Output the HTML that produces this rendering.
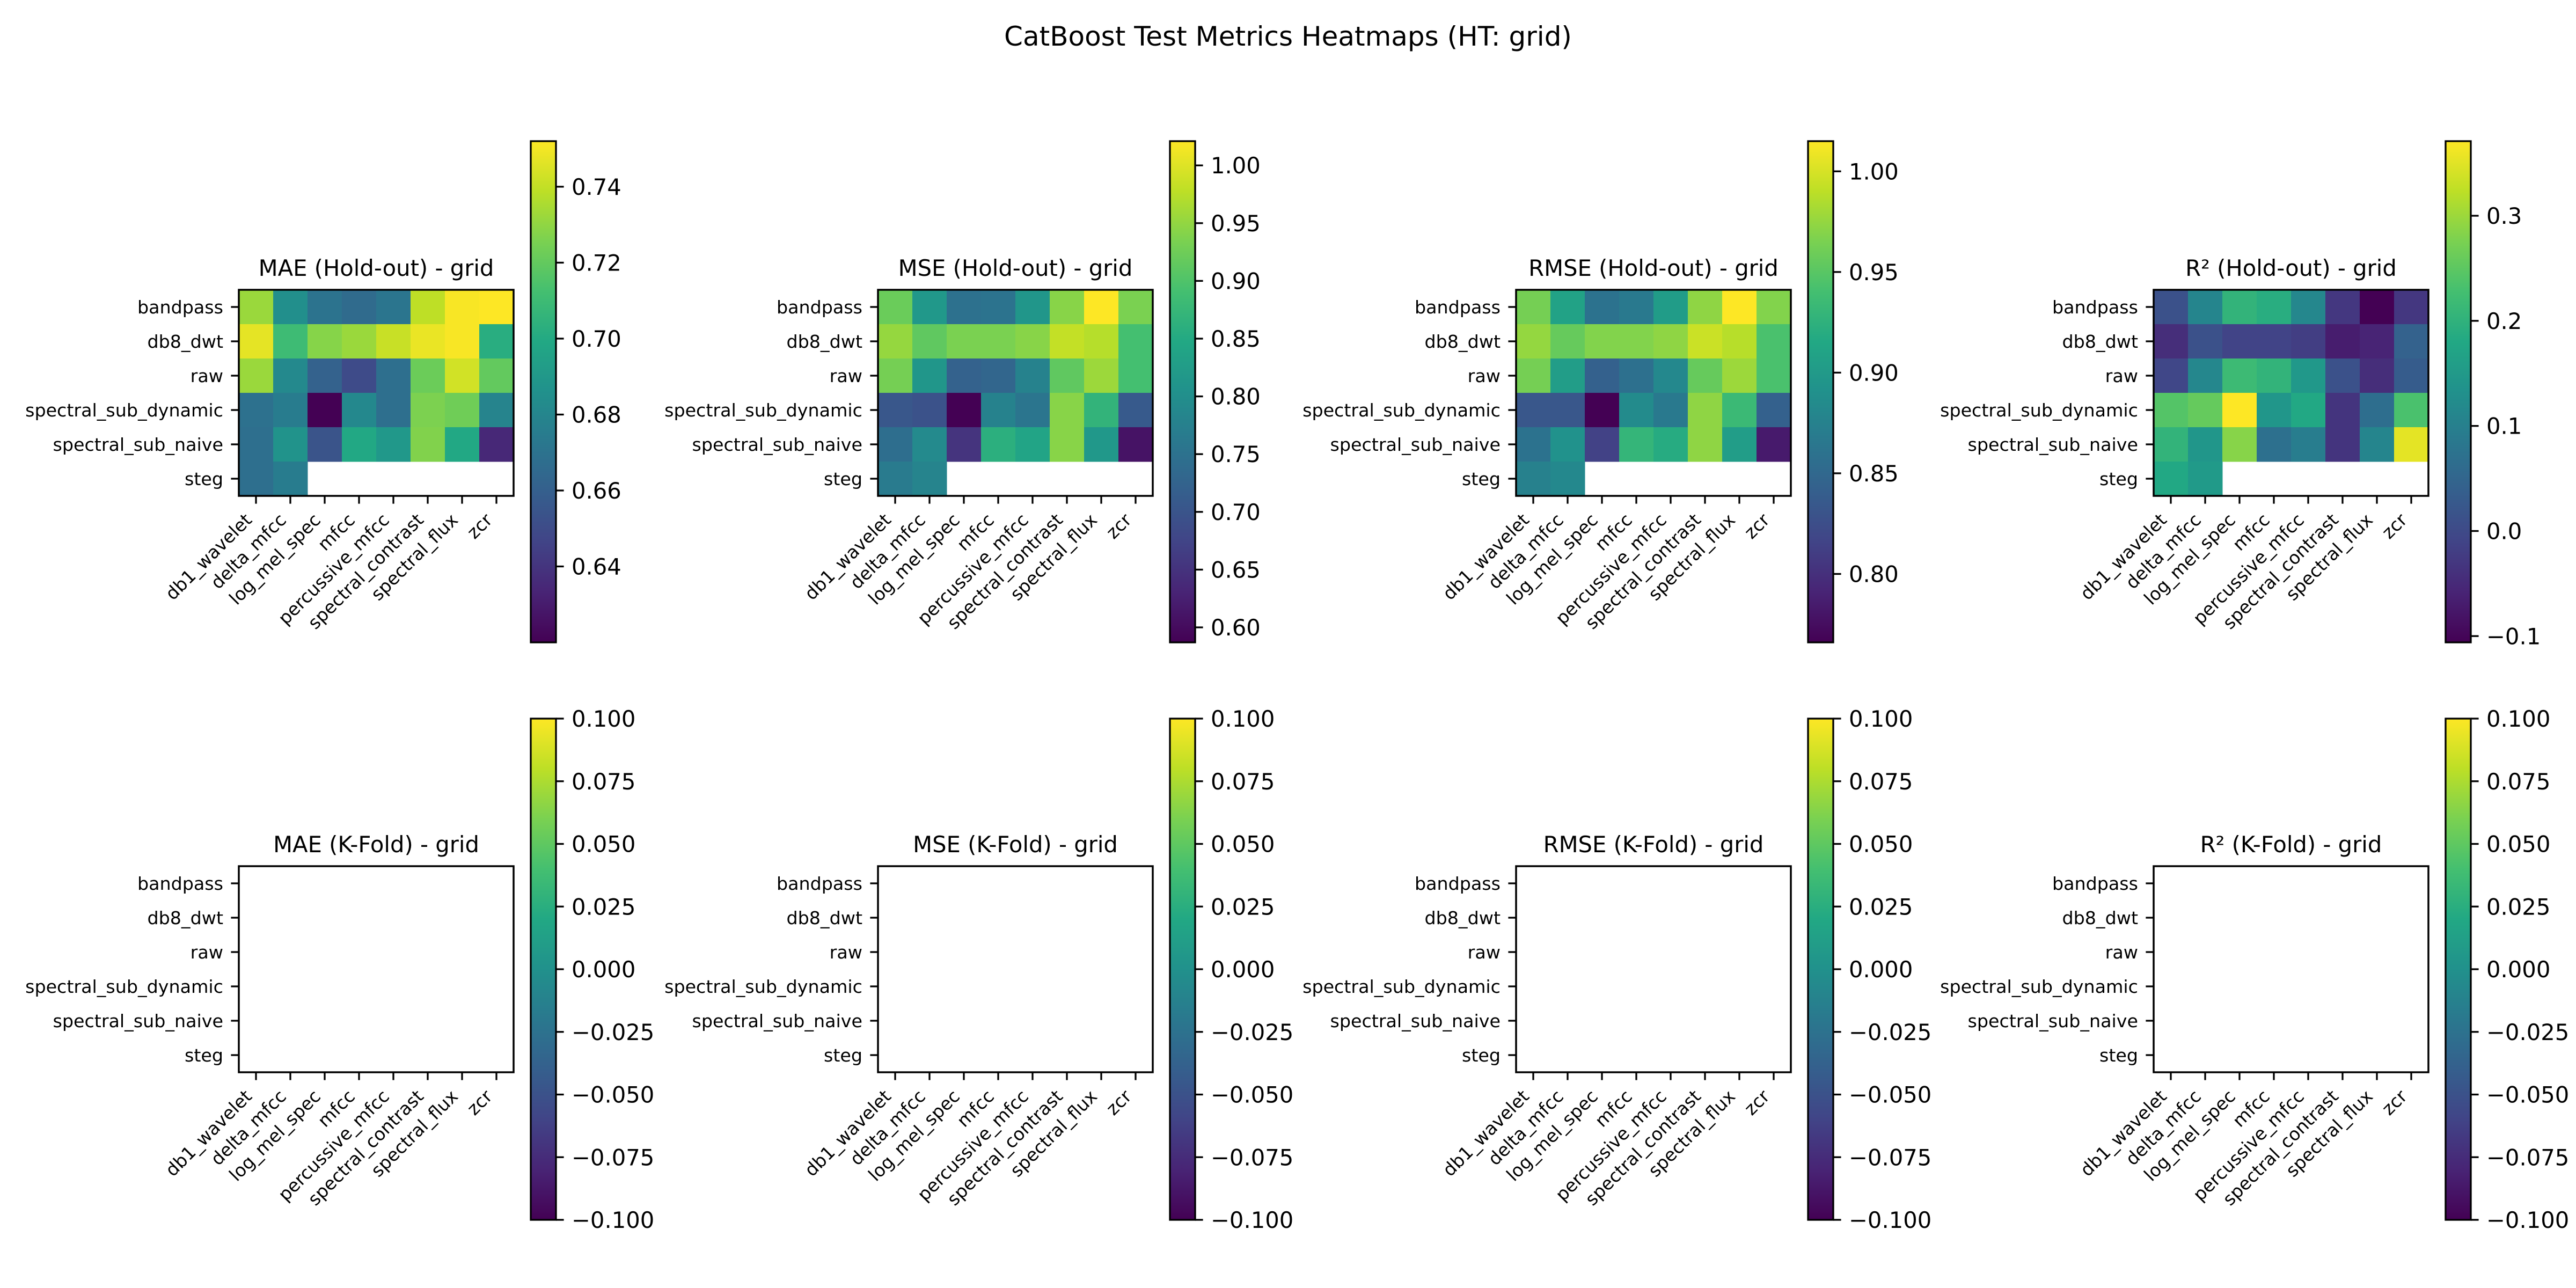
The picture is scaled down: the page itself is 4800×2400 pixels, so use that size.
<!DOCTYPE html>
<html><head><meta charset="utf-8"><style>
html,body{margin:0;padding:0;background:#fff;}
svg{display:block;font-family:"DejaVu Sans","Liberation Sans",sans-serif;}
</style></head><body>
<svg id="fig" width="4800" height="2400" viewBox="0 0 4800 2400" xmlns="http://www.w3.org/2000/svg">
<rect x="0" y="0" width="4800" height="2400" fill="#ffffff"/>
<defs>
<linearGradient id="viridisGrad" x1="0" y1="1" x2="0" y2="0">
<stop offset="0" stop-color="#440154"/><stop offset="0.1" stop-color="#482475"/><stop offset="0.2" stop-color="#414487"/><stop offset="0.3" stop-color="#355f8d"/><stop offset="0.4" stop-color="#2a788e"/><stop offset="0.5" stop-color="#21918c"/><stop offset="0.6" stop-color="#22a884"/><stop offset="0.7" stop-color="#44bf70"/><stop offset="0.8" stop-color="#7ad151"/><stop offset="0.9" stop-color="#bddf26"/><stop offset="1" stop-color="#fde725"/>
</linearGradient>
</defs>
<text x="2400" y="85" font-size="50" text-anchor="middle" fill="#000">CatBoost Test Metrics Heatmaps (HT: grid)</text>
<g id="plots"></g>
</svg>
<script>
const methods = ["bandpass","db8_dwt","raw","spectral_sub_dynamic","spectral_sub_naive","steg"];
const features = ["db1_wavelet","delta_mfcc","log_mel_spec","mfcc","percussive_mfcc","spectral_contrast","spectral_flux","zcr"];
const maeHoldout = [
 [0.732,0.685,0.670,0.666,0.671,0.739,0.751,0.752],
 [0.747,0.710,0.728,0.732,0.741,0.748,0.751,0.702],
 [0.732,0.682,0.661,0.650,0.668,0.722,0.743,0.720],
 [0.669,0.675,0.620,0.681,0.668,0.726,0.723,0.679],
 [0.668,0.687,0.654,0.699,0.690,0.727,0.699,0.635],
 [0.668,0.675,null,null,null,null,null,null]];
const mseHoldout = [
 [0.921,0.817,0.748,0.752,0.813,0.943,1.021,0.934],
 [0.952,0.913,0.934,0.934,0.943,0.982,0.973,0.891],
 [0.930,0.813,0.722,0.730,0.778,0.913,0.956,0.891],
 [0.704,0.696,0.587,0.778,0.756,0.943,0.869,0.709],
 [0.743,0.791,0.652,0.860,0.839,0.943,0.817,0.609],
 [0.765,0.782,null,null,null,null,null,null]];
const rmseHoldout = [
 [0.963,0.909,0.860,0.867,0.902,0.973,1.015,0.968],
 [0.975,0.956,0.968,0.968,0.973,0.995,0.988,0.943],
 [0.963,0.904,0.843,0.858,0.882,0.956,0.978,0.943],
 [0.833,0.833,0.766,0.885,0.867,0.973,0.934,0.843],
 [0.860,0.892,0.814,0.929,0.919,0.973,0.904,0.784],
 [0.875,0.882,null,null,null,null,null,null]];
const r2Holdout = [
 [0.013,0.109,0.204,0.190,0.113,-0.030,-0.106,-0.030],
 [-0.044,0.013,-0.011,-0.011,-0.020,-0.068,-0.058,0.042],
 [-0.006,0.113,0.218,0.204,0.147,0.013,-0.044,0.032],
 [0.242,0.257,0.371,0.142,0.180,-0.034,0.066,0.233],
 [0.204,0.142,0.285,0.070,0.094,-0.034,0.109,0.352],
 [0.180,0.152,null,null,null,null,null,null]];
const emptyKFold = [];
const maeTicks = [0.64,0.66,0.68,0.70,0.72,0.74];
const mseTicks = [0.60,0.65,0.70,0.75,0.80,0.85,0.90,0.95,1.00];
const rmseTicks = [0.80,0.85,0.90,0.95,1.00];
const r2Ticks = [-0.1,0.0,0.1,0.2,0.3];
const kfoldTicks = [-0.100,-0.075,-0.050,-0.025,0.000,0.025,0.050,0.075,0.100];
const titles = ["MAE (Hold-out) - grid","MSE (Hold-out) - grid","RMSE (Hold-out) - grid","R\u00b2 (Hold-out) - grid","MAE (K-Fold) - grid","MSE (K-Fold) - grid","RMSE (K-Fold) - grid","R\u00b2 (K-Fold) - grid"];

const VIR = ["#440154","#482475","#414487","#355f8d","#2a788e","#21918c","#22a884","#44bf70","#7ad151","#bddf26","#fde725"];
function hex2rgb(h){return [parseInt(h.substr(1,2),16),parseInt(h.substr(3,2),16),parseInt(h.substr(5,2),16)];}
function viridis(t){
  t=Math.max(0,Math.min(1,t));
  const p=t*10, i=Math.min(9,Math.floor(p)), f=p-i;
  const a=hex2rgb(VIR[i]), b=hex2rgb(VIR[i+1]);
  return "rgb("+a.map((v,k)=>Math.round(v+(b[k]-v)*f)).join(",")+")";
}
const NS="http://www.w3.org/2000/svg";
function mk(tag,attrs,parent){const e=document.createElementNS(NS,tag);for(const k in attrs)e.setAttribute(k,attrs[k]);parent.appendChild(e);return e;}
const root=document.getElementById("plots");
const CELL=64, colX=[445,1636,2825,4013], rowY=[540,1614], cbTop=[263,1339], CBH=934;
const fmt=(v,d)=>(v<0?"\u2212":"")+Math.abs(v).toFixed(d);

function drawPanel(idx,data,ticks,dec){
  const col=idx%4,row=Math.floor(idx/4);
  const x0=colX[col], y0=rowY[row];
  const W=CELL*features.length, H=CELL*methods.length;
  const g=mk("g",{},root);
  
  
  let vals=[];data.forEach(r=>r.forEach(v=>{if(v!==null)vals.push(v);}));
  let vmin=vals.length?Math.min(...vals):-0.1, vmax=vals.length?Math.max(...vals):0.1;
  const xs=j=>x0+j*CELL, ys=i=>y0+i*CELL;
  data.forEach((r,i)=>r.forEach((v,j)=>{
    if(v===null)return;
    const c=mk("rect",{x:xs(j),y:ys(i),width:CELL+0.5,height:CELL+0.5,fill:viridis((v-vmin)/(vmax-vmin))},g);
    
    
  }));
  const fr=mk("rect",{x:x0,y:y0,width:W,height:H,fill:"none",stroke:"#000","stroke-width":3.5},g);
  
  
  const t=mk("text",{x:x0+W/2,y:y0-26,"font-size":41.7,"text-anchor":"middle"},g);
  t.textContent=titles[idx];
  
  
  methods.forEach((m,i)=>{
    const yc=ys(i)+CELL/2;
    mk("line",{x1:x0-14.6,x2:x0,y1:yc,y2:yc,stroke:"#000","stroke-width":3.3},g);
    const l=mk("text",{x:x0-29,y:yc+12,"font-size":33.3,"text-anchor":"end"},g);
    l.textContent=m;
    
    
  });
  features.forEach((f,j)=>{
    const xc=xs(j)+CELL/2, yb=y0+H;
    mk("line",{x1:xc,x2:xc,y1:yb,y2:yb+14.6,stroke:"#000","stroke-width":3.3},g);
    const ex=xc-5.7, ey=yb+29+18;
    const l=mk("text",{x:ex,y:ey,"font-size":33.3,"text-anchor":"end",transform:"rotate(-45 "+ex+" "+ey+")"},g);
    l.textContent=f;
    
    
  });
  // colorbar
  const cx=x0+544, cy=cbTop[row], cw=47;
  const cb=mk("rect",{x:cx,y:cy,width:cw,height:CBH,fill:"url(#viridisGrad)",stroke:"#000","stroke-width":3.3},g);
  
  
  const cys=v=>cy+CBH-(v-vmin)/(vmax-vmin)*CBH;
  ticks.forEach(v=>{
    const y=cys(v);
    mk("line",{x1:cx+cw,x2:cx+cw+14.6,y1:y,y2:y,stroke:"#000","stroke-width":3.3},g);
    const l=mk("text",{x:cx+cw+29,y:y+15,"font-size":41.7},g);
    l.textContent=fmt(v,dec);
    
    
  });
}
drawPanel(0,maeHoldout,maeTicks,2);
drawPanel(1,mseHoldout,mseTicks,2);
drawPanel(2,rmseHoldout,rmseTicks,2);
drawPanel(3,r2Holdout,r2Ticks,1);
for(let k=4;k<8;k++) drawPanel(k,emptyKFold,kfoldTicks,3);
</script>
</body></html>
